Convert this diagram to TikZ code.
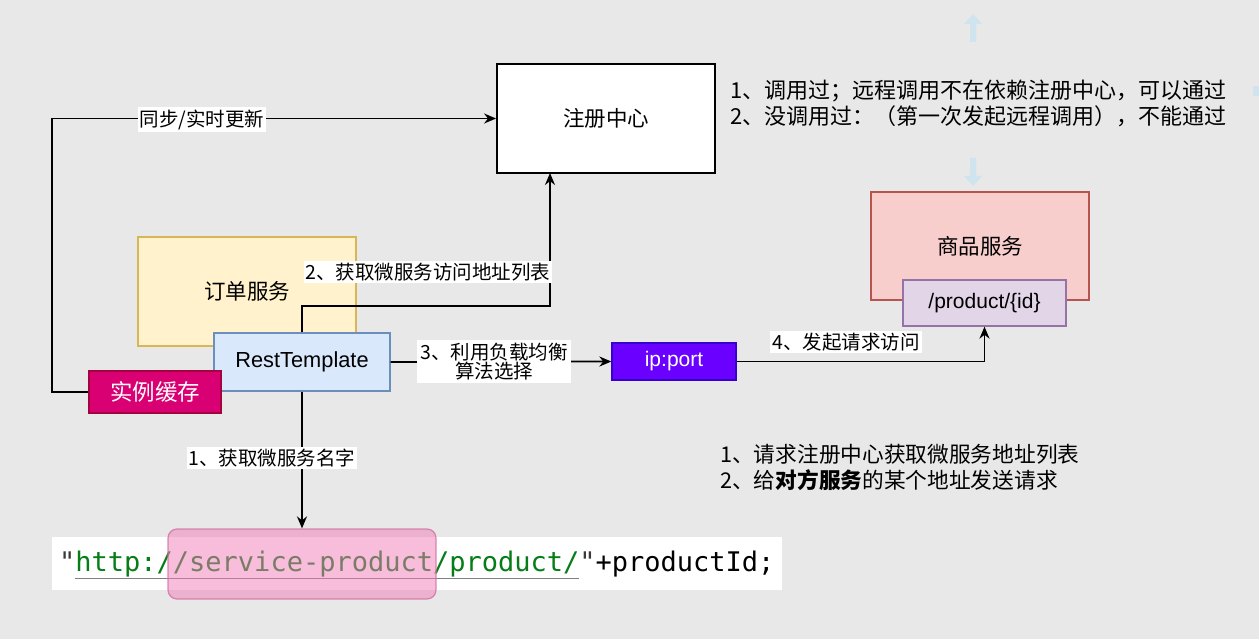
\documentclass[tikz,border=0pt]{standalone}
\usepackage{fontspec}
\setmainfont{Liberation Sans}
\newfontfamily\cjk{Noto Sans CJK SC}
\newfontfamily\codefont{DejaVu Sans Mono}
\usetikzlibrary{arrows.meta,calc}
\definecolor{bgc}{HTML}{E8E8E8}
\definecolor{ylwf}{HTML}{FFF2CC}\definecolor{ylwd}{HTML}{D6B656}
\definecolor{bluf}{HTML}{DAE8FC}\definecolor{blud}{HTML}{6C8EBF}
\definecolor{magf}{HTML}{D80073}\definecolor{magd}{HTML}{A50040}
\definecolor{vioff}{HTML}{6A00FF}\definecolor{viod}{HTML}{3700CC}
\definecolor{redf}{HTML}{F8CECC}\definecolor{redd}{HTML}{B85450}
\definecolor{purf}{HTML}{E1D5E7}\definecolor{purd}{HTML}{9673A6}
\definecolor{codegreen}{HTML}{067D17}
\definecolor{codegray}{HTML}{3A3A3A}
\definecolor{pinkf}{HTML}{F07CB8}\definecolor{pinkd}{HTML}{D070A0}
\definecolor{hintblue}{HTML}{CFE4EE}
\newcommand{\fsz}[1]{\fontsize{#1}{#1}\selectfont}
\tikzset{
  box/.style={draw, line width=1.3pt, minimum width=#1, inner sep=0pt},
  conn/.style={line width=1.8pt, -{Stealth[length=12pt,width=10pt]}},
  elabel/.style={fill=white, inner sep=2pt, font=\cjk\fsz{19.5}, align=center},
  hint/.style={fill=hintblue, draw=none}
}
\begin{document}
\begin{tikzpicture}[x=1pt,y=-1pt]
\fill[bgc] (0,0) rectangle (1259,639);
\useasboundingbox (0,0) rectangle (1259,639);

% faint hover arrows
\fill[hint] (970,42) -- (970,24) -- (964,24) -- (973,14) -- (982,24) -- (976,24) -- (976,42) -- cycle;
\fill[hint] (970,158) -- (970,176) -- (964,176) -- (973,186) -- (982,176) -- (976,176) -- (976,158) -- cycle;
\fill[hint] (1253,86) rectangle (1259,96);

% nodes
\node[box=218pt, minimum height=109pt, fill=white, draw=black, line width=1.8pt, font=\cjk\fsz{21.5}] (reg) at (606,118.5) {注册中心};
\node[box=218pt, minimum height=109pt, fill=ylwf, draw=ylwd, font=\cjk\fsz{21.5}] (order) at (247,291.5) {订单服务};
\node[box=218pt, minimum height=108pt, fill=redf, draw=redd, font=\cjk\fsz{21.5}] (goods) at (980,246) {商品服务};
\node[box=163pt, minimum height=46pt, fill=purf, draw=purd, font=\fsz{21}] (prod) at (984.5,303) {/product/\{id\}};
\node[box=176pt, minimum height=58pt, fill=bluf, draw=blud, font=\fsz{21.8}] (rt) at (302,362) {RestTemplate};
\node[box=132pt, minimum height=42pt, fill=magf, draw=magd, text=white, font=\cjk\fsz{22.5}] (cache) at (155,392) {实例缓存};
\node[box=124pt, minimum height=37pt, fill=vioff, draw=viod, text=white, font=\fsz{21}] (ip) at (674,361.5) {ip:port};

% code line
\node[fill=white, minimum width=730pt, minimum height=53pt, inner sep=0pt] (code) at (417,563.5) {};
\node[anchor=west, inner sep=0pt, font=\codefont\fsz{27}] (codetxt) at (59,564) {{\color{codegray}"}{\color{codegreen}http://service-product/product/}{\color{codegray}"}+productId;};
\draw[gray, line width=1pt] (75,578) -- (579,578);
\node[draw=pinkd, fill=pinkf, fill opacity=0.5, draw opacity=0.8, rounded corners=9pt, minimum width=268pt, minimum height=70pt, inner sep=0pt, line width=1.2pt] (pink) at (302,564) {};

% coordinates for bends
\coordinate (syncx) at (52,392);
\coordinate (c2) at (302,306);
\coordinate (regin) at (550,173);

% connectors
\draw[conn] (cache.west) -- (syncx) |- (reg.west);
\draw[conn] (rt.north) -- (c2) -| (regin);
\draw[conn] (rt.east) -- (ip.west);
\draw[conn] (ip.east) -| (prod.south);
\draw[conn] (rt.south) -- (pink.north);

% edge labels
\node[elabel] (l0) at (202,119.5) {同步/实时更新};
\node[elabel] (l2) at (428,272) {2、获取微服务访问地址列表};
\node[elabel, inner sep=3pt] (l3) at (494,361.5) {3、利用负载均衡\\[-1pt]算法选择};
\node[elabel] (l4) at (846,342) {4、发起请求访问};
\node[elabel] (l1) at (272,458) {1、获取微服务名字};

% notes
\node[anchor=west, inner sep=0pt, align=left, font=\cjk\fontsize{22}{26}\selectfont] (note1) at (730,103) {1、调用过；远程调用不在依赖注册中心，可以通过\\2、没调用过：（第一次发起远程调用），不能通过};
\node[anchor=west, inner sep=0pt, align=left, font=\cjk\fontsize{21.7}{26}\selectfont] (note2) at (720,467) {1、请求注册中心获取微服务地址列表\\2、给{\bfseries 对方服务}的某个地址发送请求};
\end{tikzpicture}
\end{document}
